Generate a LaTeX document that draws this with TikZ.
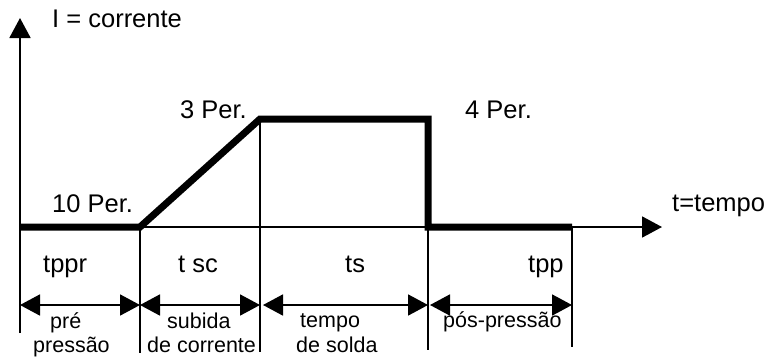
\documentclass[tikz,border=0pt]{standalone}
\usepackage{fontspec}
\setmainfont{Liberation Sans}
\usetikzlibrary{arrows.meta}
\begin{document}
\begin{tikzpicture}[x=1pt,y=-1pt,
  thinline/.style={line width=1.8pt},
  signal/.style={line width=7pt, line join=miter},
  axisarrow/.style={thinline,-{Triangle[length=20pt,width=21pt]}},
  dimarrow/.style={thinline,{Triangle[length=20pt,width=21pt]}-{Triangle[length=20pt,width=21pt]}},
  bigtxt/.style={font=\fontsize{25.5}{30}\selectfont, inner sep=0pt, anchor=base west},
  smalltxt/.style={font=\fontsize{21.5}{26}\selectfont, inner sep=0pt, anchor=base west}]
\useasboundingbox (0,0) rectangle (767,357);
% key points
\coordinate (axbot) at (20,333);
\coordinate (axtop) at (20,18);
\coordinate (origin) at (20,227);
\coordinate (taxend) at (662,227);
\coordinate (s0) at (20,227);
\coordinate (s1) at (140,227);
\coordinate (s2) at (260,119);
\coordinate (s3) at (428,119);
\coordinate (s4) at (428,227);
\coordinate (s5) at (572,227);
% vertical guide ends
\coordinate (g1b) at (140,353);
\coordinate (g2b) at (260,352);
\coordinate (g3b) at (428,350);
\coordinate (g5b) at (572,347);
% dimension arrow ends
\coordinate (d0) at (20,305);
\coordinate (d1) at (140,305);
\coordinate (d2) at (140,305);
\coordinate (d3) at (260,305);
\coordinate (d4) at (263,305);
\coordinate (d5) at (428,305);
\coordinate (d6) at (430,305);
\coordinate (d7) at (572,305);
% axes
\draw[axisarrow] (axbot) -- (axtop);
\draw[axisarrow] (origin) -- (taxend);
% guides
\draw[thinline] (s1) -- (g1b);
\draw[thinline] (s2) -- (g2b);
\draw[thinline] (s4) -- (g3b);
\draw[thinline] (s5) -- (g5b);
% signal
\draw[signal] (s0) -- (s1) -- (s2) -- (s3) -- (s4) -- (s5);
% dimension arrows
\draw[dimarrow] (d0) -- (d1);
\draw[dimarrow] (d2) -- (d3);
\draw[dimarrow] (d4) -- (d5);
\draw[dimarrow] (d6) -- (d7);
% labels
\node[bigtxt] (lI) at (52,27) {I = corrente};
\node[bigtxt] (l3) at (180,118) {3 Per.};
\node[bigtxt] (l4) at (465,118) {4 Per.};
\node[bigtxt] (l10) at (52,212) {10 Per.};
\node[bigtxt] (lt) at (672,211) {t=tempo};
\node[bigtxt] (ltppr) at (43,272) {tppr};
\node[bigtxt] (ltsc) at (178,272) {t sc};
\node[bigtxt] (lts) at (345,272) {ts};
\node[bigtxt] (ltpp) at (528,272) {tpp};
\node[smalltxt] (p1) at (50,328) {pré};
\node[smalltxt] (p2) at (33,352) {pressão};
\node[smalltxt] (c1) at (167,328) {subida};
\node[smalltxt] (c2) at (147,352) {de corrente};
\node[smalltxt] (s1t) at (300,327) {tempo};
\node[smalltxt] (s2t) at (296,352) {de solda};
\node[smalltxt] (pp) at (443,327) {pós-pressão};
\end{tikzpicture}
\end{document}
